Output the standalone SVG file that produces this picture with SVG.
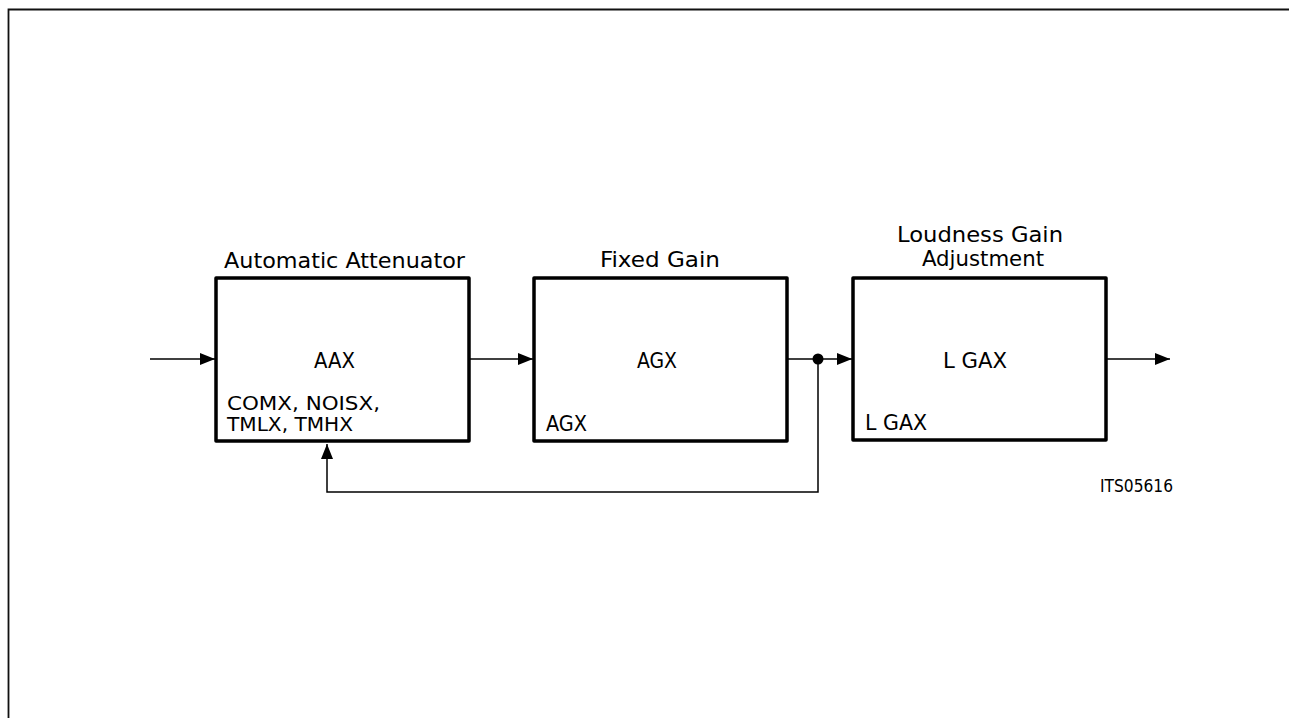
<svg xmlns="http://www.w3.org/2000/svg" width="1289" height="718" viewBox="0 0 1289 718">
<style>
.box{fill:none;stroke:#000;stroke-width:3.5;stroke-linejoin:round}
.ln{fill:none;stroke:#000;stroke-width:1.5}
.t{font-family:"DejaVu Sans Condensed","Liberation Sans",sans-serif;font-size:21px;fill:#000}
.m{font-family:"DejaVu Sans Condensed","Liberation Sans",sans-serif;font-size:19px;fill:#000}
.s{font-family:"DejaVu Sans Condensed","Liberation Sans",sans-serif;font-size:17px;fill:#000}
</style>
<defs>
<marker id="ah" markerWidth="15" markerHeight="12" refX="15" refY="6" orient="auto" markerUnits="userSpaceOnUse">
<path d="M0,0 L15,6 L0,12 Z" fill="#000"/>
</marker>
</defs>
<rect width="1289" height="718" fill="#fff"/>
<g id="frame"><path d="M8.5,718 V9.5 H1289" fill="none" stroke="#111" stroke-width="1.8"/></g>
<g id="connectors">
<line class="ln" x1="150" y1="359" x2="215" y2="359" marker-end="url(#ah)"/>
<line class="ln" x1="469" y1="359" x2="533" y2="359" marker-end="url(#ah)"/>
<line class="ln" x1="787" y1="359" x2="852" y2="359" marker-end="url(#ah)"/>
<line class="ln" x1="1106" y1="359" x2="1170" y2="359" marker-end="url(#ah)"/>
<path class="ln" d="M818,359 V492 H327 V444" marker-end="url(#ah)"/>
<circle cx="818" cy="359" r="5.5" fill="#000"/>
</g>
<g id="node-aa">
<rect class="box" x="216" y="278" width="253" height="163"/>
<text class="t" x="224" y="268" textLength="241" lengthAdjust="spacingAndGlyphs">Automatic  Attenuator</text>
<text class="t" x="314" y="368" textLength="41" lengthAdjust="spacingAndGlyphs">AAX</text>
<text class="m" x="227" y="410" textLength="153" lengthAdjust="spacingAndGlyphs">COMX,  NOISX,</text>
<text class="m" x="227" y="431" textLength="126" lengthAdjust="spacingAndGlyphs">TMLX, TMHX</text>
</g>
<g id="node-fg">
<rect class="box" x="534" y="278" width="253" height="163"/>
<text class="t" x="600" y="267" textLength="120" lengthAdjust="spacingAndGlyphs">Fixed  Gain</text>
<text class="t" x="637" y="368" textLength="40" lengthAdjust="spacingAndGlyphs">AGX</text>
<text class="t" x="546" y="431" textLength="41" lengthAdjust="spacingAndGlyphs">AGX</text>
</g>
<g id="node-lg">
<rect class="box" x="853" y="278" width="253" height="162"/>
<text class="t" x="897" y="242" textLength="166" lengthAdjust="spacingAndGlyphs">Loudness  Gain</text>
<text class="t" x="922" y="266" textLength="122" lengthAdjust="spacingAndGlyphs">Adjustment</text>
<text class="t" x="943" y="368" textLength="64" lengthAdjust="spacingAndGlyphs">L GAX</text>
<text class="t" x="865" y="430" textLength="62" lengthAdjust="spacingAndGlyphs">L GAX</text>
</g>
<text class="s" x="1100" y="492" textLength="73" lengthAdjust="spacingAndGlyphs">ITS05616</text>
</svg>
